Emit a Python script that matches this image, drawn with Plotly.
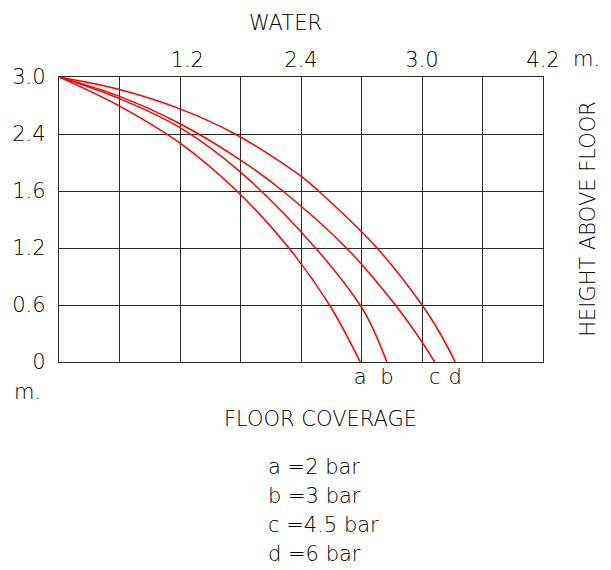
import plotly.graph_objects as go

# Grid-unit coordinates (x: 8 columns, y: 5 rows)
x_a = [0, 1.0, 2.0, 2.94, 3.80, 4.47, 4.98]
y_a = [5, 4.49, 3.84, 3.0, 2.0, 1.0, 0]
x_b = [0, 1.0, 2.0, 2.99, 4.24, 5.0, 5.2, 5.42]
y_b = [5, 4.62, 4.11, 3.34, 2.0, 0.96, 0.56, 0]
x_c = [0, 1.0, 2.0, 2.99, 3.70, 4.75, 5.56, 6.0, 6.21]
y_c = [5, 4.66, 4.18, 3.55, 3.0, 2.0, 1.0, 0.35, 0]
x_d = [0, 1.0, 2.0, 2.91, 4.0, 4.29, 5.256, 6.0, 6.30, 6.55]
y_d = [5, 4.78, 4.44, 4.0, 3.26, 3.0, 2.0, 1.0, 0.50, 0]

series_names = ["a", "b", "c", "d"]
legend_labels = ["a =2 bar", "b =3 bar", "c =4.5 bar", "d =6 bar"]

y_tick_labels = ["0", "0.6", "1.2", "1.6", "2.4", "3.0"]
top_tick_labels = ["1.2", "2.4", "3.0", "4.2"]
top_tick_pos = [2.12, 4, 6, 8]

FONT = "DejaVu Sans"
TXT = "#000000"
GRID = "#2a2a2a"
FS = 21
WEIGHT = 200

W, H = 611, 570
L, R, T, B = 57, 68, 77, 208
PW, PH = W - L - R, H - T - B


def px(x):
    return (x - L) / PW


def py(y):
    return (H - B - y) / PH


fig = go.Figure()
xs = [x_a, x_b, x_c, x_d]
ys = [y_a, y_b, y_c, y_d]
for name, x, y in zip(series_names, xs, ys):
    fig.add_trace(go.Scatter(x=x, y=y, mode="lines", name=name,
                             line=dict(color="#ff0000", width=1.5, shape="spline", smoothing=1.0),
                             showlegend=False, hoverinfo="skip"))

# invisible traces for the label axes
for ax in ["x2", "x3"]:
    fig.add_trace(go.Scatter(x=[0, 8], y=[0, 5], xaxis=ax, mode="markers",
                             marker=dict(opacity=0), showlegend=False, hoverinfo="skip"))

axis_font = dict(family=FONT, size=FS, color=TXT, weight=WEIGHT)

fig.update_layout(
    width=W, height=H,
    margin=dict(l=L, r=R, t=T, b=B, pad=0),
    paper_bgcolor="white", plot_bgcolor="white",
    xaxis=dict(range=[0, 8], showgrid=True, gridcolor=GRID, gridwidth=1.3,
               tickmode="linear", tick0=0, dtick=1, showticklabels=False, ticks="",
               zeroline=False,
               showline=True, linecolor=GRID, linewidth=1.3, mirror=True),
    xaxis2=dict(range=[0, 8], overlaying="x", side="top", showgrid=False,
                tickmode="array", tickvals=top_tick_pos, ticktext=top_tick_labels,
                ticks="outside", ticklen=1, tickcolor="rgba(0,0,0,0)",
                tickfont=axis_font, zeroline=False, showline=False),
    xaxis3=dict(range=[0, 8], overlaying="x", side="bottom", showgrid=False,
                tickmode="array", tickvals=[x[-1] for x in xs], ticktext=series_names,
                ticks="", tickfont=axis_font, zeroline=False, showline=False),
    yaxis=dict(range=[0, 5], showgrid=True, gridcolor=GRID, gridwidth=1.3,
               tickmode="array", tickvals=list(range(6)), ticktext=y_tick_labels,
               ticks="outside", ticklen=8, tickcolor="rgba(0,0,0,0)",
               tickfont=axis_font, zeroline=False,
               showline=True, linecolor=GRID, linewidth=1.3, mirror=True),
)

ann_font = dict(family=FONT, size=FS, color=TXT, weight=WEIGHT)
anns = [
    dict(text="WATER", x=px(284), y=py(22.5), xanchor="center", yanchor="middle"),
    dict(text="m.", x=px(587), y=py(59), xanchor="center", yanchor="middle"),
    dict(text="HEIGHT ABOVE FLOOR", x=px(588), y=py(219), xanchor="center", yanchor="middle",
         textangle=-90),
    dict(text="FLOOR COVERAGE", x=px(320), y=py(418.5), xanchor="center", yanchor="middle"),
    dict(text="m.", x=px(25.5), y=py(392), xanchor="center", yanchor="middle"),
]
for i, lab in enumerate(legend_labels):
    anns.append(dict(text=lab, x=px(265), y=py(466.5 + 29.2 * i), xanchor="left", yanchor="middle"))

for a in anns:
    a.update(xref="paper", yref="paper", showarrow=False, font=ann_font)
fig.update_layout(annotations=anns)

fig.write_html("out.html", config={"displayModeBar": False},
               post_script="document.body.style.margin='0';document.body.style.overflow='hidden';")
